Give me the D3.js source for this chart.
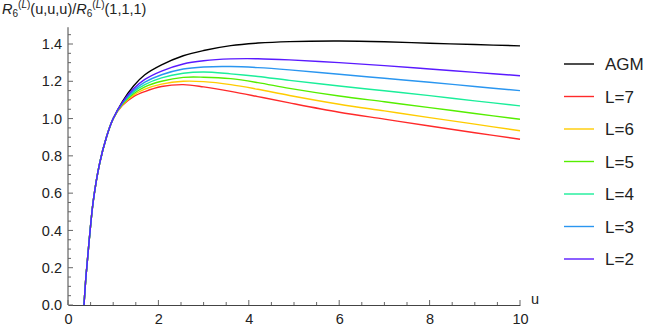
<!DOCTYPE html>
<html>
<head>
<meta charset="utf-8">
<script src="https://cdn.jsdelivr.net/npm/d3@7"></script>
<style>
  body { margin: 0; background: #fff; }
  svg { font-family: "Liberation Sans", Arial, sans-serif; }
</style>
</head>
<body>
<script>
// sample points along u, shared by all curves
const uValues = [0.354, 0.40, 0.47, 0.56, 0.7, 0.85, 1.0, 1.2, 1.45, 1.7, 2.07, 2.55, 3.0, 3.6, 4.2, 4.9, 6.0, 7.0, 8.0, 9.0, 10];

const agm = [0, 0.16, 0.35, 0.56, 0.76, 0.9, 1.0, 1.09, 1.175, 1.235, 1.288, 1.337, 1.365, 1.391, 1.405, 1.413, 1.416, 1.412, 1.404, 1.397, 1.39];
const L7 = [0, 0.16, 0.35, 0.56, 0.76, 0.9, 1.0, 1.07, 1.118, 1.145, 1.172, 1.182, 1.17, 1.146, 1.118, 1.084, 1.034, 0.997, 0.96, 0.924, 0.889];
const L6 = [0, 0.16, 0.35, 0.56, 0.76, 0.9, 1.0, 1.074, 1.126, 1.158, 1.185, 1.2, 1.198, 1.182, 1.157, 1.124, 1.077, 1.041, 1.005, 0.97, 0.935];
const L5 = [0, 0.16, 0.35, 0.56, 0.76, 0.9, 1.0, 1.077, 1.133, 1.17, 1.2, 1.221, 1.222, 1.214, 1.193, 1.162, 1.121, 1.09, 1.059, 1.027, 0.996];
const L4 = [0, 0.16, 0.35, 0.56, 0.76, 0.9, 1.0, 1.08, 1.142, 1.182, 1.218, 1.243, 1.25, 1.24, 1.226, 1.205, 1.175, 1.149, 1.123, 1.095, 1.068];
const L3 = [0, 0.16, 0.35, 0.56, 0.76, 0.9, 1.0, 1.083, 1.15, 1.195, 1.235, 1.266, 1.277, 1.279, 1.273, 1.261, 1.238, 1.216, 1.195, 1.172, 1.15];
const L2 = [0, 0.16, 0.35, 0.56, 0.76, 0.9, 1.0, 1.086, 1.16, 1.21, 1.255, 1.293, 1.31, 1.32, 1.321, 1.315, 1.30, 1.284, 1.266, 1.248, 1.23];

const seriesNames = ["AGM", "L=7", "L=6", "L=5", "L=4", "L=3", "L=2"];
const seriesValues = [agm, L7, L6, L5, L4, L3, L2];
const seriesColors = ["#000000", "#ff2a2a", "#ffcc00", "#55ee00", "#1aee9a", "#2a96f0", "#5a1aff"];

const xTicks = [0, 2, 4, 6, 8, 10];
const yTicks = [0, 0.2, 0.4, 0.6, 0.8, 1.0, 1.2, 1.4];

const svg = d3.select("body")
    .append("svg")
    .attr("width", 661)
    .attr("height", 328);

const x = d3.scaleLinear().domain([0, 10]).range([68, 520]);
const y = d3.scaleLinear().domain([0, 1.4]).range([305, 44]);

// axes
const xAxis = svg.append("g")
    .attr("transform", "translate(0,305)")
    .call(d3.axisBottom(x).tickValues(xTicks).tickSize(0).tickPadding(9).tickFormat(d3.format("d")));
xAxis.select(".domain").attr("stroke", "#444");

const yAxis = svg.append("g")
    .attr("transform", "translate(68,0)")
    .call(d3.axisLeft(y).tickValues(yTicks).tickSize(0).tickPadding(6).tickFormat(d3.format(".1f")));
yAxis.select(".domain").remove();

svg.append("line")
    .attr("x1", 68).attr("x2", 68)
    .attr("y1", 305).attr("y2", y(1.49))
    .attr("stroke", "#444");

svg.selectAll(".tick text")
    .attr("font-size", 14.5)
    .attr("font-family", "Liberation Sans, Arial, sans-serif")
    .attr("fill", "#222");

// inward ticks, majors and minors
const xMinor = d3.range(0, 10.01, 0.5);
svg.append("g").selectAll("line")
    .data(xMinor)
    .join("line")
    .attr("x1", d => x(d)).attr("x2", d => x(d))
    .attr("y1", 305)
    .attr("y2", d => (d % 2 === 0) ? 300 : 302)
    .attr("stroke", "#666");

const yMinor = d3.range(0, 1.49, 0.05);
svg.append("g").selectAll("line")
    .data(yMinor)
    .join("line")
    .attr("y1", d => y(d)).attr("y2", d => y(d))
    .attr("x1", 68)
    .attr("x2", d => (Math.round(d * 100) % 20 === 0) ? 73 : 71)
    .attr("stroke", "#666");

svg.append("text")
    .attr("x", 531)
    .attr("y", 304)
    .attr("font-size", 14.5)
    .attr("fill", "#222")
    .text("u");

// title
const title = svg.append("text")
    .attr("x", 2)
    .attr("y", 14)
    .attr("font-size", 14.5)
    .attr("fill", "#222");
function addR(t) {
    t.append("tspan").attr("font-style", "italic").text("R");
    t.append("tspan").attr("font-size", 10).attr("dy", 3).text("6");
    t.append("tspan").attr("font-size", 10).attr("dy", -9).text("(");
    t.append("tspan").attr("font-size", 10).attr("font-style", "italic").text("L");
    t.append("tspan").attr("font-size", 10).text(")");
}
addR(title);
title.append("tspan").attr("dy", 6).text("(u,u,u)/");
addR(title);
title.append("tspan").attr("dy", 6).text("(1,1,1)");

// curves
const line = d3.line()
    .x(d => x(d[0]))
    .y(d => y(d[1]))
    .curve(d3.curveCatmullRom.alpha(0.5));

seriesValues.forEach((vals, i) => {
    svg.append("path")
        .datum(uValues.map((u, j) => [u, vals[j]]))
        .attr("d", line)
        .attr("fill", "none")
        .attr("stroke", seriesColors[i])
        .attr("stroke-width", 1.4);
});

// legend
const legend = svg.append("g");
seriesNames.forEach((name, i) => {
    const ly = 64 + i * 32.5;
    legend.append("line")
        .attr("x1", 564).attr("x2", 594)
        .attr("y1", ly).attr("y2", ly)
        .attr("stroke", seriesColors[i])
        .attr("stroke-width", 1.4);
    legend.append("text")
        .attr("x", 605)
        .attr("y", ly + 6)
        .attr("font-size", 17)
        .attr("fill", "#222")
        .text(name);
});
</script>
</body>
</html>
